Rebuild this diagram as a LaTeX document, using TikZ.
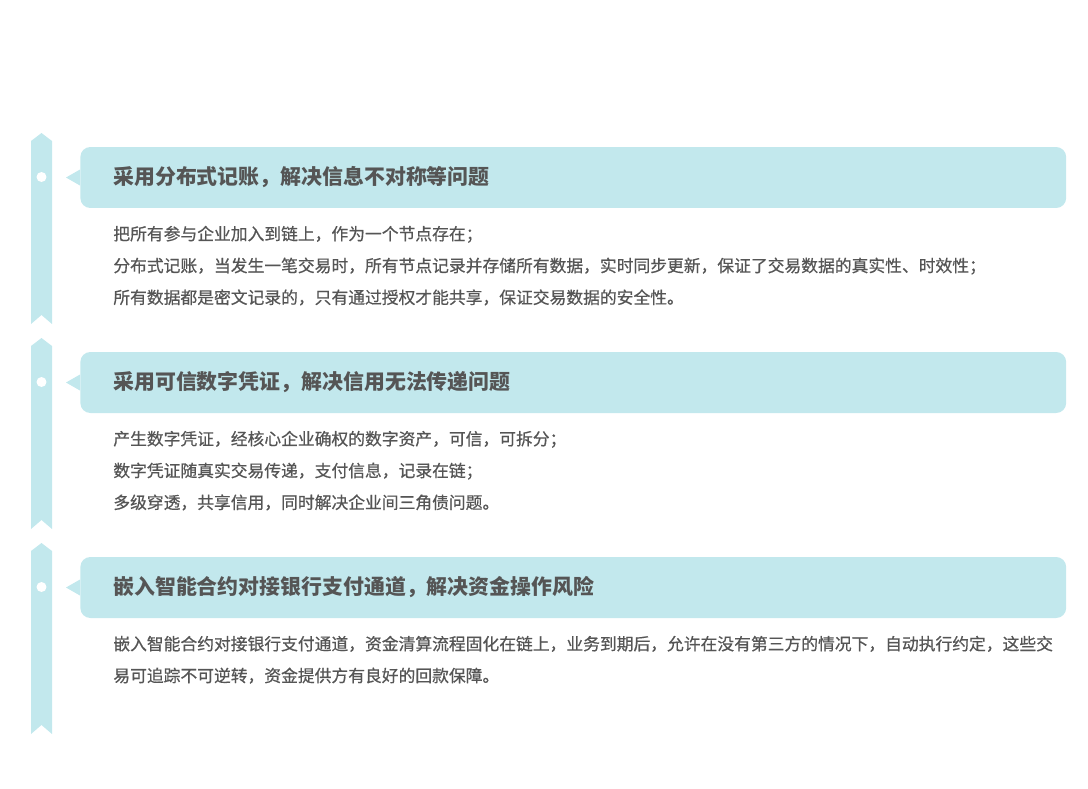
\documentclass[tikz,border=0pt]{standalone}
\usepackage{fontspec}
\setmainfont{Noto Sans CJK SC}
\newfontfamily\bodyfont[FakeBold=0.6]{Noto Sans CJK SC}
\usetikzlibrary{positioning}

\definecolor{ribbon}{HTML}{C2E8ED}
\definecolor{ink}{HTML}{555555}

\begin{document}
\begin{tikzpicture}[x=0.02cm,y=-0.02cm,
    titlebox/.style={fill=ribbon,rounded corners=0.2cm,minimum width=19.72cm,minimum height=1.22cm,anchor=west,inner sep=0pt},
    head/.style={font=\bfseries\fontsize{11.9}{14}\selectfont,text=ink,anchor=west,inner sep=0pt},
    body/.style={font=\bodyfont\fontsize{9.55}{18.1}\selectfont,text=ink,align=left,anchor=north west,inner sep=0pt},
    dot/.style={circle,fill=white,minimum size=0.2cm,inner sep=0pt}]
    \useasboundingbox (0,0) rectangle (1088,788);

    % ribbons on the left
    \fill[ribbon] (31,141) -- (41.5,133) -- (52,141) -- (52,324) -- (41.5,315) -- (31,324) -- cycle;
    \fill[ribbon] (31,346) -- (41.5,338) -- (52,346) -- (52,529) -- (41.5,520) -- (31,529) -- cycle;
    \fill[ribbon] (31,551) -- (41.5,543) -- (52,551) -- (52,734) -- (41.5,725) -- (31,734) -- cycle;
    \node[dot] (dot1) at (41.5,177) {};
    \node[dot] (dot2) at (41.5,382) {};
    \node[dot] (dot3) at (41.5,587) {};

    % section 1
    \node[titlebox] (box1) at (80,177.5) {};
    \fill[ribbon] (box1.west) ++(0,-8) -- ++(-14,8) -- ++(14,8) -- cycle;
    \node[head] (head1) at (113,177) {采用分布式记账，解决信息不对称等问题};
    \node[body] (body1) at (113,225.5) {把所有参与企业加入到链上，作为一个节点存在；\\
        分布式记账，当发生一笔交易时，所有节点记录并存储所有数据，实时同步更新，保证了交易数据的真实性、时效性；\\
        所有数据都是密文记录的，只有通过授权才能共享，保证交易数据的安全性。};

    % section 2
    \node[titlebox] (box2) at (80,382.5) {};
    \fill[ribbon] (box2.west) ++(0,-8) -- ++(-14,8) -- ++(14,8) -- cycle;
    \node[head] (head2) at (113,382) {采用可信数字凭证，解决信用无法传递问题};
    \node[body] (body2) at (113,430.5) {产生数字凭证，经核心企业确权的数字资产，可信，可拆分；\\
        数字凭证随真实交易传递，支付信息，记录在链；\\
        多级穿透，共享信用，同时解决企业间三角债问题。};

    % section 3
    \node[titlebox] (box3) at (80,587.5) {};
    \fill[ribbon] (box3.west) ++(0,-8) -- ++(-14,8) -- ++(14,8) -- cycle;
    \node[head] (head3) at (113,587) {嵌入智能合约对接银行支付通道，解决资金操作风险};
    \node[body] (body3) at (113,635.5) {嵌入智能合约对接银行支付通道，资金清算流程固化在链上，业务到期后，允许在没有第三方的情况下，自动执行约定，这些交\\
        易可追踪不可逆转，资金提供方有良好的回款保障。};
\end{tikzpicture}
\end{document}
